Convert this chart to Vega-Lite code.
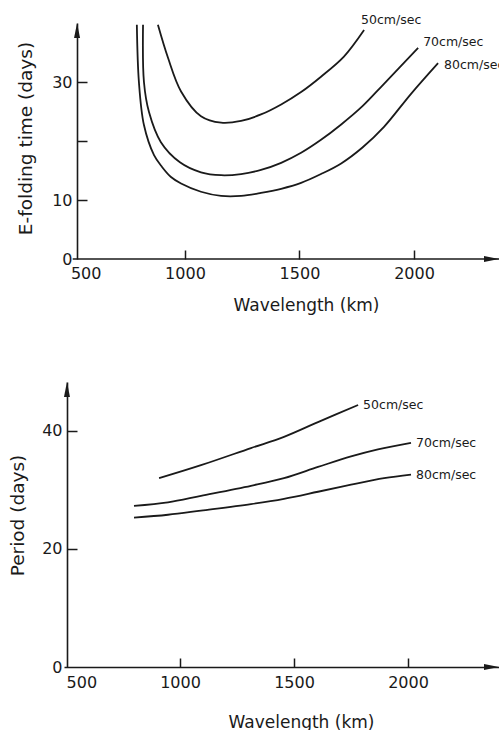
{
  "$schema": "https://vega.github.io/schema/vega-lite/v6.json",
  "padding": {"left": 8, "top": 14, "right": 0, "bottom": 0},
  "background": "white",
  "spacing": 69,
  "config": {
    "view": {"stroke": null},
    "font": "DejaVu Sans",
    "axis": {
      "grid": false,
      "domainColor": "#1a1a1a",
      "domainWidth": 1.6,
      "tickColor": "#1a1a1a",
      "tickWidth": 1.5,
      "labelFont": "DejaVu Sans",
      "labelFontSize": 16,
      "labelColor": "#1a1a1a",
      "labelFlush": false,
      "format": "d",
      "titleFont": "DejaVu Sans",
      "titleFontWeight": "normal",
      "titleColor": "#1a1a1a"
    }
  },
  "datasets": {
    "efold": [
      {"series": "50cm/sec", "wavelength": 882, "days": 39.7},
      {"series": "50cm/sec", "wavelength": 926, "days": 34.1},
      {"series": "50cm/sec", "wavelength": 983, "days": 28.4},
      {"series": "50cm/sec", "wavelength": 1070, "days": 24.2},
      {"series": "50cm/sec", "wavelength": 1158, "days": 23.1},
      {"series": "50cm/sec", "wavelength": 1245, "days": 23.4},
      {"series": "50cm/sec", "wavelength": 1332, "days": 24.5},
      {"series": "50cm/sec", "wavelength": 1420, "days": 26.2},
      {"series": "50cm/sec", "wavelength": 1507, "days": 28.3},
      {"series": "50cm/sec", "wavelength": 1594, "days": 30.9},
      {"series": "50cm/sec", "wavelength": 1694, "days": 34.3},
      {"series": "50cm/sec", "wavelength": 1782, "days": 38.8},
      {"series": "70cm/sec", "wavelength": 817, "days": 39.7},
      {"series": "70cm/sec", "wavelength": 821, "days": 30.0},
      {"series": "70cm/sec", "wavelength": 843, "days": 24.9},
      {"series": "70cm/sec", "wavelength": 895, "days": 19.8},
      {"series": "70cm/sec", "wavelength": 978, "days": 16.4},
      {"series": "70cm/sec", "wavelength": 1070, "days": 14.7},
      {"series": "70cm/sec", "wavelength": 1158, "days": 14.2},
      {"series": "70cm/sec", "wavelength": 1245, "days": 14.4},
      {"series": "70cm/sec", "wavelength": 1332, "days": 15.1},
      {"series": "70cm/sec", "wavelength": 1420, "days": 16.3},
      {"series": "70cm/sec", "wavelength": 1507, "days": 18.0},
      {"series": "70cm/sec", "wavelength": 1594, "days": 20.2},
      {"series": "70cm/sec", "wavelength": 1682, "days": 22.8},
      {"series": "70cm/sec", "wavelength": 1775, "days": 25.9},
      {"series": "70cm/sec", "wavelength": 1869, "days": 29.7},
      {"series": "70cm/sec", "wavelength": 2018, "days": 35.8},
      {"series": "80cm/sec", "wavelength": 790, "days": 39.7},
      {"series": "80cm/sec", "wavelength": 799, "days": 30.0},
      {"series": "80cm/sec", "wavelength": 821, "days": 22.7},
      {"series": "80cm/sec", "wavelength": 865, "days": 17.6},
      {"series": "80cm/sec", "wavelength": 900, "days": 15.6},
      {"series": "80cm/sec", "wavelength": 939, "days": 13.9},
      {"series": "80cm/sec", "wavelength": 983, "days": 12.8},
      {"series": "80cm/sec", "wavelength": 1070, "days": 11.4},
      {"series": "80cm/sec", "wavelength": 1158, "days": 10.7},
      {"series": "80cm/sec", "wavelength": 1245, "days": 10.7},
      {"series": "80cm/sec", "wavelength": 1332, "days": 11.2},
      {"series": "80cm/sec", "wavelength": 1420, "days": 11.9},
      {"series": "80cm/sec", "wavelength": 1507, "days": 12.9},
      {"series": "80cm/sec", "wavelength": 1594, "days": 14.4},
      {"series": "80cm/sec", "wavelength": 1682, "days": 16.2},
      {"series": "80cm/sec", "wavelength": 1775, "days": 18.9},
      {"series": "80cm/sec", "wavelength": 1869, "days": 22.4},
      {"series": "80cm/sec", "wavelength": 1987, "days": 28.0},
      {"series": "80cm/sec", "wavelength": 2105, "days": 33.2}
    ],
    "period": [
      {"series": "50cm/sec", "wavelength": 908, "days": 32.0},
      {"series": "50cm/sec", "wavelength": 1092, "days": 34.2},
      {"series": "50cm/sec", "wavelength": 1311, "days": 37.1},
      {"series": "50cm/sec", "wavelength": 1456, "days": 39.0},
      {"series": "50cm/sec", "wavelength": 1605, "days": 41.5},
      {"series": "50cm/sec", "wavelength": 1781, "days": 44.4},
      {"series": "70cm/sec", "wavelength": 798, "days": 27.3},
      {"series": "70cm/sec", "wavelength": 947, "days": 27.9},
      {"series": "70cm/sec", "wavelength": 1092, "days": 29.0},
      {"series": "70cm/sec", "wavelength": 1311, "days": 30.7},
      {"series": "70cm/sec", "wavelength": 1456, "days": 32.0},
      {"series": "70cm/sec", "wavelength": 1605, "days": 33.9},
      {"series": "70cm/sec", "wavelength": 1750, "days": 35.7},
      {"series": "70cm/sec", "wavelength": 1868, "days": 36.9},
      {"series": "70cm/sec", "wavelength": 2013, "days": 38.0},
      {"series": "80cm/sec", "wavelength": 798, "days": 25.3},
      {"series": "80cm/sec", "wavelength": 947, "days": 25.8},
      {"series": "80cm/sec", "wavelength": 1092, "days": 26.5},
      {"series": "80cm/sec", "wavelength": 1311, "days": 27.6},
      {"series": "80cm/sec", "wavelength": 1456, "days": 28.5},
      {"series": "80cm/sec", "wavelength": 1605, "days": 29.7},
      {"series": "80cm/sec", "wavelength": 1750, "days": 30.9},
      {"series": "80cm/sec", "wavelength": 1895, "days": 32.0},
      {"series": "80cm/sec", "wavelength": 2013, "days": 32.6}
    ]
  },
  "vconcat": [
    {
      "width": 435,
      "height": 236,
      "layer": [
        {
          "data": {"name": "efold"},
          "mark": {"type": "line", "interpolate": "catmull-rom", "color": "#1a1a1a", "strokeWidth": 1.8},
          "encoding": {
            "x": {
              "field": "wavelength", "type": "quantitative",
              "scale": {"domain": [472, 2371], "nice": false, "zero": false},
              "axis": {
                "title": "Wavelength  (km)",
                "values": [500, 1000, 1500, 2000],
                "domain": false,
                "tickSize": -9,
                "tickOpacity": {"condition": {"test": "datum.value == 500", "value": 0}, "value": 1},
                "labelAlign": {"condition": {"test": "datum.value == 500", "value": "left"}, "value": "center"},
                "labelPadding": 15,
                "titleFontSize": 17,
                "titleX": 242,
                "titleY": 46,
                "titleBaseline": "middle"
              }
            },
            "y": {
              "field": "days", "type": "quantitative",
              "scale": {"domain": [0, 40], "nice": false},
              "axis": {
                "title": "E-folding time  (days)",
                "values": [0, 10, 20, 30],
                "labelExpr": "datum.value == 20 ? '' : datum.label",
                "offset": -13,
                "tickSize": -10,
                "tickOpacity": {"condition": {"test": "datum.value == 0", "value": 0}, "value": 1},
                "labelPadding": 15,
                "titleFontSize": 18.5,
                "titleX": -52,
                "titleY": 115,
                "titleBaseline": "middle"
              }
            },
            "detail": {"field": "series"}
          }
        },
        {
          "data": {"name": "efold"},
          "transform": [
            {"joinaggregate": [{"op": "max", "field": "wavelength", "as": "maxw"}], "groupby": ["series"]},
            {"filter": "datum.wavelength == datum.maxw && datum.series == '50cm/sec'"}
          ],
          "mark": {"type": "text", "align": "left", "baseline": "middle", "dx": -3, "dy": -10, "fontSize": 12.5, "color": "#1a1a1a"},
          "encoding": {
            "x": {"field": "wavelength", "type": "quantitative"},
            "y": {"field": "days", "type": "quantitative"},
            "text": {"field": "series"}
          }
        },
        {
          "data": {"name": "efold"},
          "transform": [
            {"joinaggregate": [{"op": "max", "field": "wavelength", "as": "maxw"}], "groupby": ["series"]},
            {"filter": "datum.wavelength == datum.maxw && datum.series == '70cm/sec'"}
          ],
          "mark": {"type": "text", "align": "left", "baseline": "middle", "dx": 5, "dy": -6, "fontSize": 12.5, "color": "#1a1a1a"},
          "encoding": {
            "x": {"field": "wavelength", "type": "quantitative"},
            "y": {"field": "days", "type": "quantitative"},
            "text": {"field": "series"}
          }
        },
        {
          "data": {"name": "efold"},
          "transform": [
            {"joinaggregate": [{"op": "max", "field": "wavelength", "as": "maxw"}], "groupby": ["series"]},
            {"filter": "datum.wavelength == datum.maxw && datum.series == '80cm/sec'"}
          ],
          "mark": {"type": "text", "align": "left", "baseline": "middle", "dx": 6, "dy": 2, "fontSize": 12.5, "color": "#1a1a1a"},
          "encoding": {
            "x": {"field": "wavelength", "type": "quantitative"},
            "y": {"field": "days", "type": "quantitative"},
            "text": {"field": "series"}
          }
        },
        {
          "data": {"values": [{}]},
          "mark": {"type": "rule", "color": "#1a1a1a", "strokeWidth": 1.6},
          "encoding": {"x": {"datum": 510}, "x2": {"datum": 2371}, "y": {"datum": 0}}
        },
        {
          "data": {"values": [{}]},
          "mark": {"type": "point", "shape": "M0,-1L0.4,1L-0.4,1Z", "filled": true, "size": 225, "color": "#1a1a1a", "opacity": 1},
          "encoding": {"x": {"datum": 529}, "y": {"datum": 40}, "yOffset": {"value": 7.5}}
        },
        {
          "data": {"values": [{}]},
          "mark": {"type": "point", "shape": "M1,0L-1,-0.4L-1,0.4Z", "filled": true, "size": 225, "color": "#1a1a1a", "opacity": 1},
          "encoding": {"x": {"datum": 2371}, "y": {"datum": 0}, "xOffset": {"value": -7.5}}
        }
      ]
    },
    {
      "width": 435,
      "height": 285,
      "layer": [
        {
          "data": {"name": "period"},
          "mark": {"type": "line", "interpolate": "catmull-rom", "color": "#1a1a1a", "strokeWidth": 1.8},
          "encoding": {
            "x": {
              "field": "wavelength", "type": "quantitative",
              "scale": {"domain": [491, 2399], "nice": false, "zero": false},
              "axis": {
                "title": "Wavelength   (km)",
                "values": [500, 1000, 1500, 2000],
                "tickSize": -9,
                "tickOpacity": {"condition": {"test": "datum.value == 500", "value": 0}, "value": 1},
                "labelAlign": {"condition": {"test": "datum.value == 500", "value": "left"}, "value": "center"},
                "labelPadding": 16,
                "titleFontSize": 17,
                "titleX": 237,
                "titleY": 55,
                "titleBaseline": "middle"
              }
            },
            "y": {
              "field": "days", "type": "quantitative",
              "scale": {"domain": [0, 48.3], "nice": false},
              "axis": {
                "title": "Period  (days)",
                "values": [0, 20, 40],
                "offset": -3,
                "tickSize": -10,
                "tickOpacity": {"condition": {"test": "datum.value == 0", "value": 0}, "value": 1},
                "labelPadding": 15,
                "titleFontSize": 18.5,
                "titleX": -50,
                "titleY": 133,
                "titleBaseline": "middle"
              }
            },
            "detail": {"field": "series"}
          }
        },
        {
          "data": {"name": "period"},
          "transform": [
            {"joinaggregate": [{"op": "max", "field": "wavelength", "as": "maxw"}], "groupby": ["series"]},
            {"filter": "datum.wavelength == datum.maxw"}
          ],
          "mark": {"type": "text", "align": "left", "baseline": "middle", "dx": 5, "dy": 0, "fontSize": 12.5, "color": "#1a1a1a"},
          "encoding": {
            "x": {"field": "wavelength", "type": "quantitative"},
            "y": {"field": "days", "type": "quantitative"},
            "text": {"field": "series"}
          }
        },
        {
          "data": {"values": [{}]},
          "mark": {"type": "point", "shape": "M0,-1L0.4,1L-0.4,1Z", "filled": true, "size": 225, "color": "#1a1a1a", "opacity": 1},
          "encoding": {"x": {"datum": 504}, "y": {"datum": 48.3}, "yOffset": {"value": 7.5}}
        },
        {
          "data": {"values": [{}]},
          "mark": {"type": "point", "shape": "M1,0L-1,-0.4L-1,0.4Z", "filled": true, "size": 225, "color": "#1a1a1a", "opacity": 1},
          "encoding": {"x": {"datum": 2399}, "y": {"datum": 0}, "xOffset": {"value": -7.5}}
        }
      ]
    }
  ]
}
